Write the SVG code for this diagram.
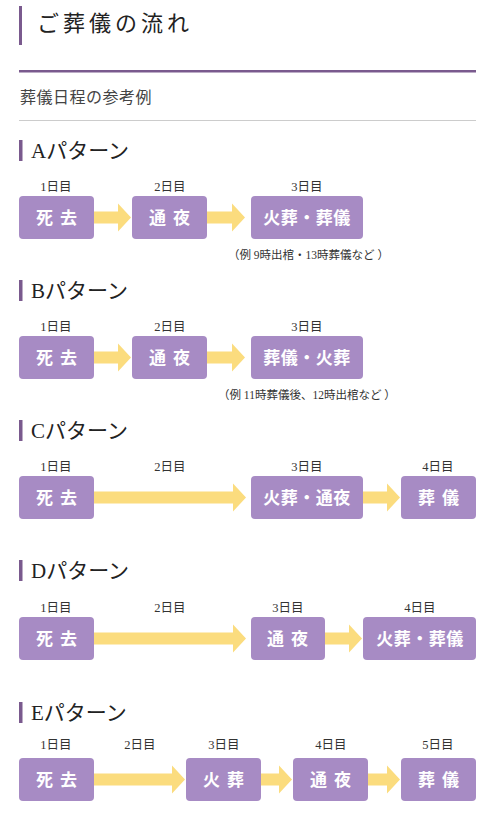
<svg xmlns="http://www.w3.org/2000/svg" width="487" height="816" viewBox="0 0 487 816">
<style>
.t{font-family:"Liberation Serif","Noto Sans CJK JP",serif;fill:#222}
.h1{font-size:22px;letter-spacing:4px}
.h2{font-size:16px;fill:#444;letter-spacing:0.5px}
.pt{font-size:21px}
.day{font-size:12.5px;text-anchor:middle;fill:#333}
.note{font-size:11.5px;fill:#333}
.box{fill:#a78bc4}
.bt{font-family:"Noto Sans CJK JP",sans-serif;font-size:17px;font-weight:bold;fill:#fff;text-anchor:middle;letter-spacing:7px}
.bw{letter-spacing:0.5px}
.bar{fill:#7a5a8e}
.arr{fill:#fbdc7e}
</style>
<rect width="487" height="816" fill="#fff"/>
<g id="header">
<rect class="bar" x="19" y="6" width="3" height="39"/>
<text class="t h1" x="37" y="31">ご葬儀の流れ</text>
<rect class="bar" x="19" y="70" width="457" height="2.5"/>
<text class="t h2" x="20" y="103">葬儀日程の参考例</text>
<rect x="19" y="120" width="457" height="1" fill="#ccc"/>
</g>
<g id="titles">
<rect class="bar" x="19" y="140" width="3.5" height="21"/><text class="t pt" x="31" y="158">Aパターン</text>
<rect class="bar" x="19" y="280" width="3.5" height="21"/><text class="t pt" x="31" y="298">Bパターン</text>
<rect class="bar" x="19" y="420" width="3.5" height="21"/><text class="t pt" x="31" y="438">Cパターン</text>
<rect class="bar" x="19" y="560" width="3.5" height="21"/><text class="t pt" x="31" y="578">Dパターン</text>
<rect class="bar" x="19" y="702" width="3.5" height="21"/><text class="t pt" x="31" y="720">Eパターン</text>
</g>
<g id="days">
<text class="t day" x="56" y="191">1日目</text><text class="t day" x="170" y="191">2日目</text><text class="t day" x="307" y="191">3日目</text>
<text class="t day" x="56" y="331">1日目</text><text class="t day" x="170" y="331">2日目</text><text class="t day" x="307" y="331">3日目</text>
<text class="t day" x="56" y="471">1日目</text><text class="t day" x="170" y="471">2日目</text><text class="t day" x="307" y="471">3日目</text><text class="t day" x="438" y="471">4日目</text>
<text class="t day" x="56" y="612">1日目</text><text class="t day" x="170" y="612">2日目</text><text class="t day" x="288" y="612">3日目</text><text class="t day" x="420" y="612">4日目</text>
<text class="t day" x="56" y="749">1日目</text><text class="t day" x="140" y="749">2日目</text><text class="t day" x="224" y="749">3日目</text><text class="t day" x="331" y="749">4日目</text><text class="t day" x="438" y="749">5日目</text>
</g>
<g id="notes">
<text class="t note" x="228" y="259">（例 9時出棺・13時葬儀など ）</text>
<text class="t note" x="218" y="399">（例 11時葬儀後、12時出棺など ）</text>
</g>
<g id="connectors">
<polygon class="arr" points="94,211.5 118,211.5 118,203.5 131,217.5 118,231.5 118,223.5 94,223.5"/>
<polygon class="arr" points="207,211.5 232,211.5 232,203.5 245,217.5 232,231.5 232,223.5 207,223.5"/>
<polygon class="arr" points="94,351.5 118,351.5 118,343.5 131,357.5 118,371.5 118,363.5 94,363.5"/>
<polygon class="arr" points="207,351.5 232,351.5 232,343.5 245,357.5 232,371.5 232,363.5 207,363.5"/>
<polygon class="arr" points="94,491.5 233,491.5 233,483.5 246,497.5 233,511.5 233,503.5 94,503.5"/>
<polygon class="arr" points="363,491.5 387,491.5 387,483.5 400,497.5 387,511.5 387,503.5 363,503.5"/>
<polygon class="arr" points="94,632.5 233,632.5 233,624.5 246,638.5 233,652.5 233,644.5 94,644.5"/>
<polygon class="arr" points="325,632.5 349,632.5 349,624.5 362,638.5 349,652.5 349,644.5 325,644.5"/>
<polygon class="arr" points="94,773.5 172,773.5 172,765.5 185,779.5 172,793.5 172,785.5 94,785.5"/>
<polygon class="arr" points="261,773.5 279,773.5 279,765.5 292,779.5 279,793.5 279,785.5 261,785.5"/>
<polygon class="arr" points="368,773.5 387,773.5 387,765.5 400,779.5 387,793.5 387,785.5 368,785.5"/>
</g>
<g id="A1"><rect class="box" x="19" y="196" width="75" height="43" rx="4"/><text class="bt" x="60" y="224">死去</text></g>
<g id="A2"><rect class="box" x="132" y="196" width="75" height="43" rx="4"/><text class="bt" x="173" y="224">通夜</text></g>
<g id="A3"><rect class="box" x="251" y="196" width="112" height="43" rx="4"/><text class="bt bw" x="307" y="224">火葬・葬儀</text></g>
<g id="B1"><rect class="box" x="19" y="336" width="75" height="43" rx="4"/><text class="bt" x="60" y="364">死去</text></g>
<g id="B2"><rect class="box" x="132" y="336" width="75" height="43" rx="4"/><text class="bt" x="173" y="364">通夜</text></g>
<g id="B3"><rect class="box" x="251" y="336" width="112" height="43" rx="4"/><text class="bt bw" x="307" y="364">葬儀・火葬</text></g>
<g id="C1"><rect class="box" x="19" y="476" width="75" height="43" rx="4"/><text class="bt" x="60" y="504">死去</text></g>
<g id="C3"><rect class="box" x="251" y="476" width="112" height="43" rx="4"/><text class="bt bw" x="307" y="504">火葬・通夜</text></g>
<g id="C4"><rect class="box" x="401" y="476" width="75" height="43" rx="4"/><text class="bt" x="442" y="504">葬儀</text></g>
<g id="D1"><rect class="box" x="19" y="617" width="75" height="43" rx="4"/><text class="bt" x="60" y="645">死去</text></g>
<g id="D3"><rect class="box" x="251" y="617" width="74" height="43" rx="4"/><text class="bt" x="291" y="645">通夜</text></g>
<g id="D4"><rect class="box" x="363" y="617" width="113" height="43" rx="4"/><text class="bt bw" x="420" y="645">火葬・葬儀</text></g>
<g id="E1"><rect class="box" x="19" y="758" width="75" height="43" rx="4"/><text class="bt" x="60" y="786">死去</text></g>
<g id="E3"><rect class="box" x="186" y="758" width="75" height="43" rx="4"/><text class="bt" x="227" y="786">火葬</text></g>
<g id="E4"><rect class="box" x="293" y="758" width="75" height="43" rx="4"/><text class="bt" x="334" y="786">通夜</text></g>
<g id="E5"><rect class="box" x="401" y="758" width="75" height="43" rx="4"/><text class="bt" x="442" y="786">葬儀</text></g>
</svg>
